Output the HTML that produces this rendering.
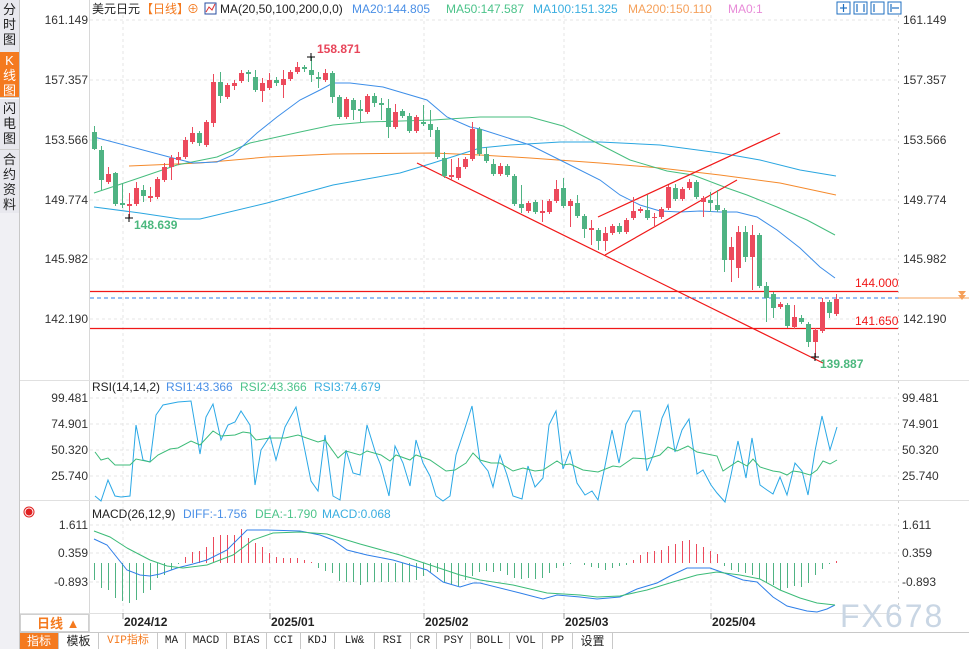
<!DOCTYPE html>
<html><head><meta charset="utf-8"><style>
html,body{margin:0;padding:0;background:#fff;}
body{width:969px;height:649px;overflow:hidden;position:relative;font-family:"Liberation Sans","Noto Sans CJK SC",sans-serif;}
svg{position:absolute;left:0;top:0;}
.side{position:absolute;left:0;width:19px;background:#e8e8ee;color:#222;font-size:13px;line-height:15px;text-align:center;font-family:"Liberation Sans","Noto Sans CJK SC",sans-serif;border-bottom:1px solid #d0d0d0;}
.tb{position:absolute;top:633px;height:16px;font-family:"Liberation Mono","Noto Sans CJK SC",monospace;font-size:11px;line-height:16px;text-align:center;border-right:1px solid #c8c8c8;color:#222;background:#fff;}
</style></head><body>
<div class="side" style="top:0;height:50px;padding-top:2px;">分<br>时<br>图</div>
<div class="side" style="top:52px;height:44px;background:#f47a1f;color:#fff;padding-top:1px;">K<br>线<br>图</div>
<div class="side" style="top:99px;height:48px;padding-top:2px;">闪<br>电<br>图</div>
<div class="side" style="top:150px;height:62px;padding-top:2px;">合<br>约<br>资<br>料</div>
<div style="position:absolute;left:0;top:213px;width:19px;height:436px;background:#f0f0f4;"></div>
<svg width="969" height="649" viewBox="0 0 969 649" xmlns="http://www.w3.org/2000/svg" font-family="Liberation Sans, Noto Sans CJK SC, sans-serif">
<line x1="19.5" y1="0" x2="19.5" y2="649" stroke="#c8c8c8"/>
<!-- grid -->
<g stroke="#e4e4e4" stroke-dasharray="3,3">
<line x1="90" y1="20" x2="898" y2="20"/><line x1="90" y1="80" x2="898" y2="80"/><line x1="90" y1="140" x2="898" y2="140"/><line x1="90" y1="200" x2="898" y2="200"/><line x1="90" y1="259" x2="898" y2="259"/><line x1="90" y1="319" x2="898" y2="319"/>
<line x1="90" y1="398" x2="898" y2="398"/><line x1="90" y1="424" x2="898" y2="424"/><line x1="90" y1="450" x2="898" y2="450"/><line x1="90" y1="476" x2="898" y2="476"/>
<line x1="90" y1="525" x2="898" y2="525"/><line x1="90" y1="553" x2="898" y2="553"/><line x1="90" y1="582" x2="898" y2="582"/>
<line x1="123" y1="15" x2="123" y2="613"/><line x1="270" y1="15" x2="270" y2="613"/><line x1="424" y1="15" x2="424" y2="613"/><line x1="564" y1="15" x2="564" y2="613"/><line x1="711" y1="15" x2="711" y2="613"/>
</g>
<line x1="89.5" y1="0" x2="89.5" y2="632" stroke="#d8d8d8"/>
<line x1="898.5" y1="15" x2="898.5" y2="613" stroke="#cfcfcf" stroke-dasharray="2,4"/>
<line x1="20" y1="380.5" x2="969" y2="380.5" stroke="#e0e0e0"/>
<line x1="20" y1="500.5" x2="969" y2="500.5" stroke="#e0e0e0"/>
<line x1="20" y1="613.5" x2="898" y2="613.5" stroke="#e0e0e0"/>
<!-- header -->
<text y="13" font-size="12" fill="#222"><tspan x="92">美元日元</tspan><tspan fill="#f47a1f" x="141">【日线】</tspan><tspan fill="#f47a1f" x="187">⊕</tspan></text>
<rect x="205" y="3" width="11" height="11" fill="#fff" stroke="#2a4da0"/><polyline points="206,12 209,7 212,10 215,4" fill="none" stroke="#d33"/>
<text y="13" font-size="12"><tspan x="220" fill="#222">MA(20,50,100,200,0,0)</tspan><tspan x="352" fill="#4a8fe6">MA20:144.805</tspan><tspan x="446" fill="#4cc38a">MA50:147.587</tspan><tspan x="533" fill="#3aaee0">MA100:151.325</tspan><tspan x="628" fill="#f5a05a">MA200:150.110</tspan><tspan x="728" fill="#e88ad8">MA0:1</tspan></text>
<g fill="#fff" stroke="#1f6fc0"><rect x="837" y="2" width="13" height="12"/><rect x="854" y="2" width="13" height="12"/><rect x="871" y="2" width="13" height="12"/><rect x="888" y="2" width="13" height="12"/></g>
<g stroke="#1f6fc0" stroke-width="1.2"><line x1="840" y1="8" x2="847" y2="8"/><line x1="843.5" y1="4" x2="843.5" y2="12"/><line x1="857" y1="4" x2="857" y2="12"/><line x1="864" y1="4" x2="864" y2="12"/><line x1="874" y1="4" x2="874" y2="12"/><line x1="891" y1="4" x2="891" y2="12"/><line x1="892" y1="8" x2="899" y2="8"/></g>
<!-- axis labels -->
<g font-size="12" fill="#333">
<text x="88" y="24" text-anchor="end">161.149</text><text x="88" y="84" text-anchor="end">157.357</text><text x="88" y="144" text-anchor="end">153.566</text><text x="88" y="204" text-anchor="end">149.774</text><text x="88" y="263" text-anchor="end">145.982</text><text x="88" y="323" text-anchor="end">142.190</text>
<text x="903" y="24">161.149</text><text x="903" y="84">157.357</text><text x="903" y="144">153.566</text><text x="903" y="204">149.774</text><text x="903" y="263">145.982</text><text x="903" y="323">142.190</text>
<text x="88" y="402" text-anchor="end">99.481</text><text x="88" y="428" text-anchor="end">74.901</text><text x="88" y="454" text-anchor="end">50.320</text><text x="88" y="480" text-anchor="end">25.740</text>
<text x="902" y="402">99.481</text><text x="902" y="428">74.901</text><text x="902" y="454">50.320</text><text x="902" y="480">25.740</text>
<text x="88" y="529" text-anchor="end">1.611</text><text x="88" y="557" text-anchor="end">0.359</text><text x="88" y="586" text-anchor="end">-0.893</text>
<text x="902" y="529">1.611</text><text x="902" y="557">0.359</text><text x="902" y="586">-0.893</text>
</g>
<!-- MAs -->
<g fill="none" stroke-width="1">
<polyline stroke="#f58a2c" points="129,166 200,163 267,157 333,154 433,153 480,155 530,158 600,163 660,168 720,175 780,183 836,195"/>
<polyline stroke="#2aa6e0" points="94,207 140,213 180,219 200,219 267,203 333,185 400,173 433,163 480,148 510,145 560,142 600,142 660,145 720,153 760,160 800,170 836,176"/>
<polyline stroke="#46bd7e" points="94,193 133,180 177,165 217,157 250,143 300,132 333,125 367,122 433,120 480,117 530,117 563,126 597,143 630,160 667,171 693,175 727,188 747,195 777,207 807,220 835,235"/>
<polyline stroke="#3d8ee8" points="94,137 173,158 193,163 217,162 233,155 257,133 277,117 300,100 320,90 333,83 350,83 383,87 427,100 447,117 470,127 480,129 530,145 560,160 600,180 620,195 640,205 660,211 680,212 700,211 720,212 737,212 757,217 777,230 800,248 820,267 835,278"/>
</g>
<!-- trendlines -->
<g stroke="#f01818" stroke-width="1.2">
<line x1="417" y1="163" x2="823" y2="363"/>
<line x1="598" y1="217" x2="780" y2="133"/>
<line x1="605" y1="255" x2="737" y2="180"/>
<line x1="90" y1="291.5" x2="898" y2="291.5"/>
<line x1="90" y1="328.5" x2="898" y2="328.5"/>
</g>
<line x1="90" y1="298" x2="898" y2="298" stroke="#2f7fe8" stroke-dasharray="4,3"/>
<line x1="898" y1="298" x2="969" y2="298" stroke="#f5a05a"/>
<path d="M958,291 L966,291 L962,296 Z M958,295 L966,295 L962,300 Z" fill="#f5a05a"/>
<g id="candles"></g>
<g stroke="#000"><line x1="125" y1="218" x2="133" y2="218"/><line x1="129" y1="214" x2="129" y2="222"/><line x1="307" y1="57" x2="315" y2="57"/><line x1="311" y1="53" x2="311" y2="61"/><line x1="811" y1="357" x2="819" y2="357"/><line x1="815" y1="353" x2="815" y2="361"/></g>
<g font-size="12" font-weight="bold">
<text x="317" y="53" fill="#e8455a">158.871</text>
<text x="134" y="229" fill="#4cb87e">148.639</text>
<text x="820" y="368" fill="#4cb87e">139.887</text>
<text x="855" y="287" fill="#f01818" font-weight="normal">144.000</text>
<text x="855" y="325" fill="#f01818" font-weight="normal">141.650</text>
</g>
<!-- RSI -->
<text y="391" font-size="12"><tspan x="92" fill="#222">RSI(14,14,2)</tspan><tspan x="166" fill="#4a8fe6">RSI1:43.366</tspan><tspan x="240" fill="#4cc38a">RSI2:43.366</tspan><tspan x="314" fill="#3aaee0">RSI3:74.679</tspan></text>
<polyline fill="none" stroke="#2aa8e6" points="95,496 101,501 108,480 115,496 121,497 130,496 136,425 143,460 150,462 156,415 163,405 178,402 191,401 200,454 206,417 213,404 221,440 228,425 235,422 241,411 250,425 255,485 261,450 270,436 276,460 285,427 296,407 305,451 311,481 318,491 325,435 333,496 340,500 346,450 353,473 360,475 367,425 375,451 381,466 389,496 395,446 403,463 410,486 416,440 423,463 430,476 436,496 443,501 450,496 456,455 465,428 472,406 480,461 488,471 493,487 500,455 507,475 513,496 522,499 528,466 535,487 543,478 549,425 556,411 563,469 570,451 577,483 585,495 592,491 598,500 605,466 612,430 619,463 626,424 633,411 640,411 647,471 654,453 662,418 668,405 675,452 682,430 689,419 697,474 703,470 711,485 717,493 725,502 731,475 738,441 746,478 752,438 760,485 767,490 773,494 780,477 787,495 795,463 802,471 808,495 815,451 822,416 830,450 837,427"/>
<polyline fill="none" stroke="#3cbb78" points="95,452 101,460 108,458 115,465 130,465 136,459 150,462 158,455 170,449 178,448 191,441 200,445 213,431 221,436 235,435 243,432 250,433 256,440 270,438 285,438 298,435 318,442 325,440 338,458 346,451 360,455 367,451 381,455 390,461 396,455 410,460 416,455 430,460 446,471 455,470 466,463 473,453 480,460 491,463 500,463 513,471 523,468 535,471 543,470 557,461 563,465 570,464 583,470 598,472 613,466 620,467 633,458 647,459 660,455 668,447 677,451 688,446 697,452 717,456 723,471 738,461 747,466 753,459 760,467 773,471 780,472 787,475 793,471 800,472 810,475 817,470 823,461 830,464 837,460"/>
<!-- MACD -->
<g stroke="#e02020" fill="none" stroke-width="1"><circle cx="29" cy="512" r="3" fill="#e02020"/><circle cx="29" cy="512" r="5"/></g>
<text y="518" font-size="12"><tspan x="92" fill="#222">MACD(26,12,9)</tspan><tspan x="183" fill="#4a8fe6">DIFF:-1.756</tspan><tspan x="255" fill="#4cc38a">DEA:-1.790</tspan><tspan x="322" fill="#3aaee0">MACD:0.068</tspan></text>
<g id="hist"></g>
<polyline fill="none" stroke="#2f7fe8" points="94,539 107,545 127,570 140,575 150,576 160,574 177,568 193,564 207,560 227,550 247,530 267,530 300,531 320,535 333,540 347,550 367,555 393,560 427,570 443,582 460,587 473,583 480,583 520,593 543,599 557,595 580,597 597,599 620,597 637,589 657,583 670,576 687,568 710,568 727,574 743,580 757,582 773,597 787,606 807,611 817,612 827,609 835,605"/>
<polyline fill="none" stroke="#3cbb78" points="94,531 110,537 127,548 150,560 167,566 183,568 207,565 233,555 253,540 273,533 300,532 327,534 360,544 400,555 430,565 460,575 480,580 513,585 547,593 580,595 597,597 620,596 647,590 673,582 697,575 717,572 740,575 760,579 780,590 800,598 817,603 835,605"/>
<text x="840" y="627" font-size="32" fill="#c9d6e4" font-family="Liberation Sans, sans-serif" letter-spacing="2">FX678</text>
<!-- date axis -->
<rect x="20.5" y="614.5" width="68" height="17" fill="#fff" stroke="#d0d0d0"/>
<text x="37" y="628" font-size="13" fill="#f47a1f" font-weight="bold">日线 ▲</text>
<g stroke="#999"><line x1="123" y1="613" x2="123" y2="619"/><line x1="270" y1="613" x2="270" y2="619"/><line x1="424" y1="613" x2="424" y2="619"/><line x1="564" y1="613" x2="564" y2="619"/><line x1="711" y1="613" x2="711" y2="619"/></g>
<g font-size="12" font-weight="bold" fill="#222"><text x="124" y="626">2024/12</text><text x="271" y="626">2025/01</text><text x="425" y="626">2025/02</text><text x="565" y="626">2025/03</text><text x="712" y="626">2025/04</text></g>
<line x1="20" y1="632.5" x2="969" y2="632.5" stroke="#c8c8c8"/>
</svg>
<div class="tb" style="left:20px;width:38px;background:#f47a1f;color:#fff;font-family:'Liberation Sans','Noto Sans CJK SC',sans-serif;font-size:12px;">指标</div>
<div class="tb" style="left:59px;width:39px;font-family:'Liberation Sans','Noto Sans CJK SC',sans-serif;font-size:12px;">模板</div>
<div class="tb" style="left:99px;width:58px;color:#f47a1f;">VIP指标</div>
<div class="tb" style="left:158px;width:27px;">MA</div>
<div class="tb" style="left:186px;width:40px;">MACD</div>
<div class="tb" style="left:227px;width:39px;">BIAS</div>
<div class="tb" style="left:267px;width:33px;">CCI</div>
<div class="tb" style="left:301px;width:33px;">KDJ</div>
<div class="tb" style="left:335px;width:39px;">LW&amp;</div>
<div class="tb" style="left:375px;width:35px;">RSI</div>
<div class="tb" style="left:411px;width:25px;">CR</div>
<div class="tb" style="left:437px;width:33px;">PSY</div>
<div class="tb" style="left:471px;width:38px;">BOLL</div>
<div class="tb" style="left:510px;width:32px;">VOL</div>
<div class="tb" style="left:543px;width:29px;">PP</div>
<div class="tb" style="left:573px;width:39px;font-family:'Liberation Sans','Noto Sans CJK SC',sans-serif;font-size:12px;">设置</div>
<script>
var C=[[94,'g',132,149,126,150],[101,'g',150,180,146,190],[108,'r',174,182,167,184],[115,'g',173,204,172,206],[122,'g',203,205,183,208],[129,'r',204,206,193,218],[136,'r',188,204,182,206],[143,'g',190,196,185,202],[150,'r',196,198,187,202],[157,'r',179,197,177,199],[164,'r',167,180,163,182],[171,'r',158,167,155,180],[178,'r',157,160,152,165],[185,'r',140,157,137,159],[192,'r',133,142,127,144],[199,'g',133,143,131,146],[206,'r',122,145,120,147],[213,'r',82,123,74,127],[220,'g',82,96,72,103],[227,'r',85,97,83,99],[234,'r',83,86,80,90],[241,'r',73,81,70,83],[248,'g',72,74,70,82],[255,'g',77,90,70,92],[262,'r',83,91,78,102],[269,'r',80,88,73,90],[276,'g',80,83,77,86],[283,'r',79,85,70,98],[290,'r',72,79,70,81],[297,'r',67,72,62,74],[304,'g',67,69,65,72],[311,'g',70,75,57,82],[318,'g',77,79,72,88],[325,'r',73,80,69,82],[332,'g',73,97,71,103],[339,'g',97,117,95,119],[346,'r',99,117,97,119],[353,'g',100,110,98,120],[360,'g',109,111,100,122],[367,'r',96,112,94,114],[374,'g',96,103,93,107],[381,'g',103,105,98,120],[388,'g',108,127,99,138],[395,'r',112,127,104,129],[402,'g',111,116,109,118],[409,'g',116,131,113,133],[416,'r',117,131,115,133],[423,'g',122,124,105,126],[430,'g',124,130,110,137],[437,'g',130,157,127,159],[444,'g',158,176,152,178],[451,'r',175,177,159,180],[458,'r',167,178,158,180],[465,'r',159,167,157,169],[472,'r',129,159,122,161],[479,'g',129,154,127,156],[486,'g',154,161,147,163],[493,'g',164,174,159,176],[500,'r',166,174,163,176],[507,'g',166,175,164,177],[514,'g',176,204,174,206],[521,'g',204,208,185,213],[528,'r',203,211,201,213],[535,'g',202,212,200,214],[542,'r',211,213,200,222],[549,'r',201,212,199,214],[556,'r',189,201,180,203],[563,'g',188,206,178,208],[570,'r',201,206,199,227],[577,'g',203,216,195,218],[584,'g',216,229,214,238],[591,'r',228,230,220,245],[598,'g',230,241,228,250],[605,'r',233,241,227,251],[612,'r',226,233,224,235],[619,'g',226,232,223,234],[626,'r',220,232,218,234],[633,'r',211,218,197,220],[640,'r',209,211,207,213],[647,'g',210,218,195,220],[654,'r',217,218,213,227],[661,'r',209,217,207,219],[668,'r',187,208,185,210],[675,'g',188,199,184,201],[682,'r',189,199,187,201],[689,'r',182,188,179,190],[696,'g',182,197,180,199],[703,'r',198,202,196,217],[710,'g',200,203,192,212],[717,'g',205,210,190,212],[724,'g',210,260,208,272],[731,'r',247,260,237,282],[738,'r',232,268,226,278],[745,'g',232,257,226,262],[752,'r',235,257,225,290],[759,'g',235,286,233,288],[766,'g',286,298,282,322],[773,'g',294,308,292,318],[780,'r',304,307,302,309],[787,'g',305,326,303,328],[794,'r',317,327,305,329],[801,'g',318,322,315,324],[808,'g',324,342,322,347],[815,'r',330,342,328,357],[822,'r',302,331,298,333],[829,'g',302,313,300,318],[836,'r',299,314,294,316]];
var NS='http://www.w3.org/2000/svg',g=document.getElementById('candles'),s='';
C.forEach(function(c){var col=c[1]=='r'?'#ec4a5c':'#4fb383';var h=Math.max(1,c[3]-c[2]);
s+='<line x1="'+(c[0]+.5)+'" y1="'+c[4]+'" x2="'+(c[0]+.5)+'" y2="'+c[5]+'" stroke="'+col+'"/>';
s+='<rect x="'+(c[0]-2)+'" y="'+c[2]+'" width="5" height="'+h+'" fill="'+col+'"/>';});
g.innerHTML=s;
var H=[[94,580],[101,588],[108,590],[115,598],[122,601],[129,603],[136,600],[143,593],[150,590],[157,578],[164,575],[171,570],[178,564],[185,557],[192,552],[199,551],[206,547],[213,537],[220,535],[227,535],[234,535],[241,529],[248,538],[255,543],[262,547],[269,553],[276,557],[283,558],[290,558],[297,558],[304,560],[311,562],[318,568],[325,571],[332,573],[339,581],[346,582],[353,582],[360,585],[367,582],[374,582],[381,582],[388,582],[395,582],[402,582],[409,582],[416,580],[423,576],[430,573],[437,572],[444,582],[451,585],[458,586],[465,580],[472,576],[479,572],[486,571],[493,572],[500,571],[507,575],[514,578],[521,579],[528,578],[535,579],[542,578],[549,573],[556,568],[563,566],[570,564],[577,563],[584,565],[591,567],[598,568],[605,570],[612,568],[619,566],[626,565],[633,560],[640,555],[647,552],[654,551],[661,550],[668,546],[675,544],[682,541],[689,540],[696,544],[703,547],[710,551],[717,554],[724,566],[731,570],[738,572],[745,573],[752,575],[759,579],[766,583],[773,585],[780,590],[787,588],[794,586],[801,587],[808,583],[815,575],[822,569],[829,564],[836,561]];
var z=563,t='';
H.forEach(function(b){var col=b[1]<z?'#ec4a5c':'#4fb383';t+='<line x1="'+(b[0]+.5)+'" y1="'+z+'" x2="'+(b[0]+.5)+'" y2="'+b[1]+'" stroke="'+col+'"/>';});
document.getElementById('hist').innerHTML=t;
</script>
</body></html>
